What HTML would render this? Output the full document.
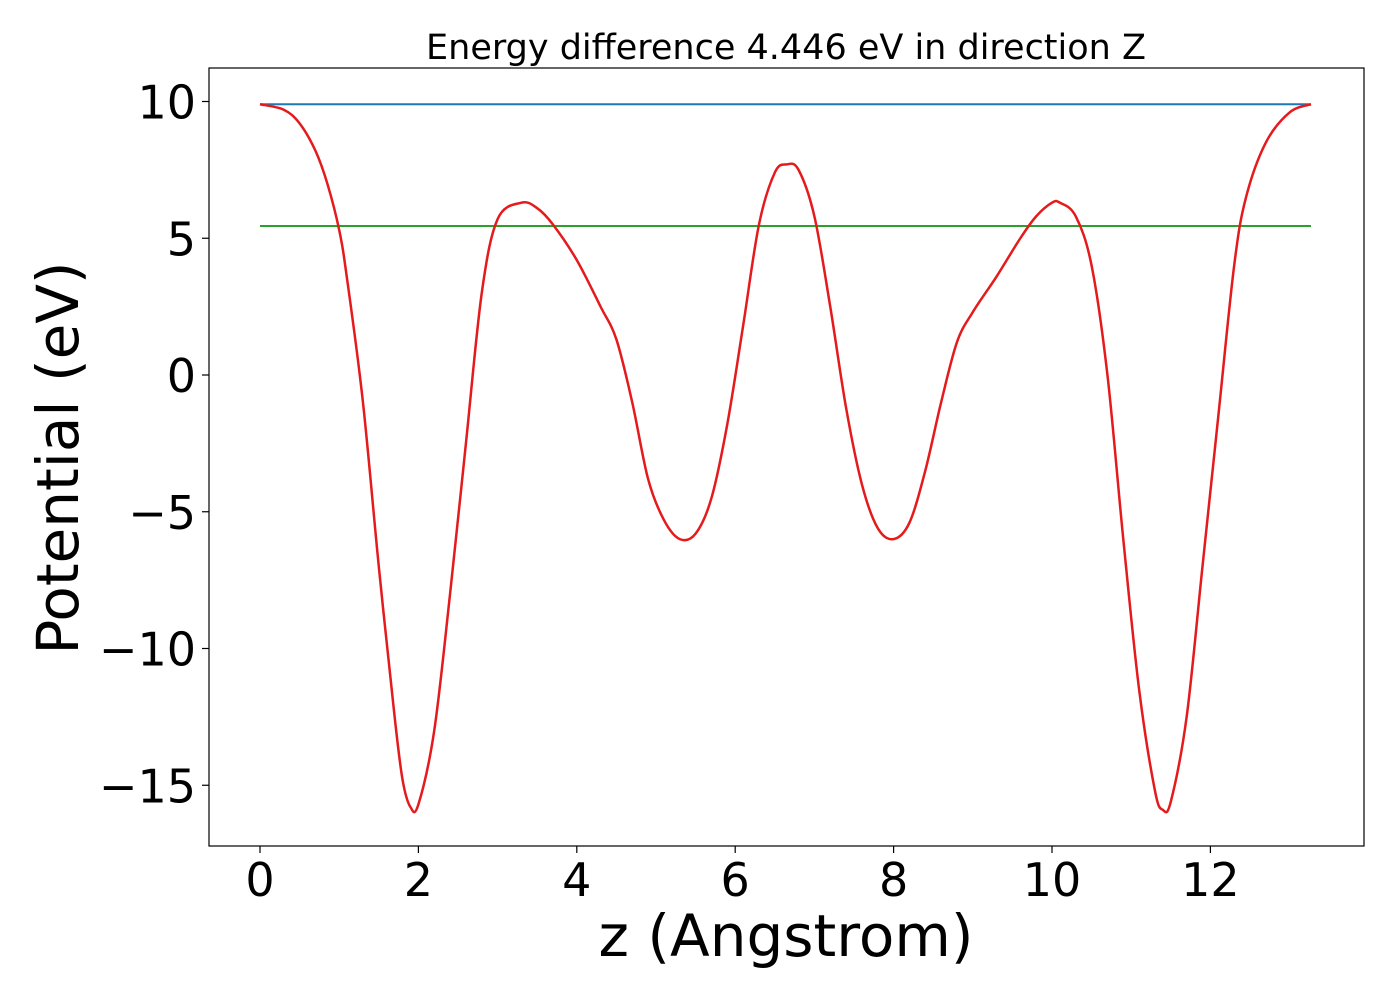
<!DOCTYPE html>
<html><head><meta charset="utf-8"><style>
html,body{margin:0;padding:0;background:#fff;}
svg{display:block;font-family:"DejaVu Sans","Liberation Sans",sans-serif;}
</style></head><body>
<svg id="chart" width="1400" height="1000" viewBox="0 0 1400 1000">
<rect x="0" y="0" width="1400" height="1000" fill="#fff"/>
<text x="786" y="59" font-size="35" text-anchor="middle">Energy difference 4.446 eV in direction Z</text>
<g id="plot"></g>
<rect x="209" y="68" width="1155" height="778" fill="none" stroke="#000" stroke-width="1.2"/>
<text x="786" y="956" font-size="58" text-anchor="middle">z (Angstrom)</text>
<text transform="translate(78,458) rotate(-90)" font-size="58" text-anchor="middle">Potential (eV)</text>
</svg>
<script>
const xTicks=[0,2,4,6,8,10,12];
const yTicks=[10,5,0,-5,-10,-15];
const zVals=[0,0.3,0.5,0.7,0.85,1.0,1.1,1.3,1.5,1.7,1.8,1.9,2.0,2.2,2.4,2.6,2.8,3.0,3.3,3.5,3.7,4.0,4.3,4.5,4.7,4.9,5.1,5.3,5.5,5.7,5.9,6.1,6.3,6.5,6.65,6.8,7.0,7.2,7.4,7.6,7.8,8.0,8.2,8.4,8.6,8.8,9.0,9.3,9.6,9.8,10.0,10.1,10.3,10.5,10.7,10.9,11.1,11.3,11.4,11.5,11.7,11.9,12.1,12.3,12.45,12.7,13.0,13.27];
const potVals=[9.9,9.7,9.2,8.2,7.0,5.3,3.5,-1,-7,-12.5,-14.8,-15.8,-15.7,-13,-8,-2.5,3,5.7,6.3,6.1,5.5,4.2,2.5,1.3,-1,-3.8,-5.3,-6.0,-5.8,-4.5,-1.8,1.8,5.5,7.4,7.7,7.5,5.8,2.5,-1.2,-4,-5.6,-6.0,-5.4,-3.5,-1,1.2,2.3,3.6,5.0,5.8,6.3,6.3,5.8,4,0,-6,-11.5,-15.2,-15.9,-15.6,-12.5,-7,-1.5,4,6.5,8.5,9.6,9.9];
const vacuumLevel=[9.9];
const averageLevel=[5.45];
const xRange=[0,13.27];
const X=v=>260+v*79.2;
const Y=v=>375-v*27.35;
const NS='http://www.w3.org/2000/svg';
const g=document.getElementById('plot');
function mk(t,a){const e=document.createElementNS(NS,t);for(const k in a)e.setAttribute(k,a[k]);g.appendChild(e);return e;}
xTicks.forEach(t=>{
 const l=mk('line',{x1:X(t),x2:X(t),y1:846,y2:853,stroke:'#000','stroke-width':1.2});
 
 
 const tx=mk('text',{x:X(t),y:896,'font-size':46,'text-anchor':'middle'});
 tx.textContent=String(t);
 
 
});
yTicks.forEach(t=>{
 const l=mk('line',{x1:202,x2:209,y1:Y(t),y2:Y(t),stroke:'#000','stroke-width':1.2});
 
 
 const tx=mk('text',{x:196,y:Y(t)+17,'font-size':46,'text-anchor':'end'});
 tx.textContent=(t<0?'\u2212':'')+Math.abs(t);
 
 
});
const b=mk('line',{x1:X(xRange[0]),x2:X(xRange[1]),y1:Y(vacuumLevel[0]),y2:Y(vacuumLevel[0]),stroke:'#1f77b4','stroke-width':2});


const gr=mk('line',{x1:X(xRange[0]),x2:X(xRange[1]),y1:Y(averageLevel[0]),y2:Y(averageLevel[0]),stroke:'#2ca02c','stroke-width':2});


const pts=zVals.map((z,i)=>[X(z),Y(potVals[i])]);
let d='M'+pts[0][0]+','+pts[0][1];
for(let i=0;i<pts.length-1;i++){
 const p0=pts[Math.max(i-1,0)],p1=pts[i],p2=pts[i+1],p3=pts[Math.min(i+2,pts.length-1)];
 const c1=[p1[0]+(p2[0]-p0[0])/6,p1[1]+(p2[1]-p0[1])/6];
 const c2=[p2[0]-(p3[0]-p1[0])/6,p2[1]-(p3[1]-p1[1])/6];
 d+=' C'+c1[0]+','+c1[1]+' '+c2[0]+','+c2[1]+' '+p2[0]+','+p2[1];
}
const r=mk('path',{d:d,fill:'none',stroke:'#e41a1c','stroke-width':2.5});


</script>
</body></html>
